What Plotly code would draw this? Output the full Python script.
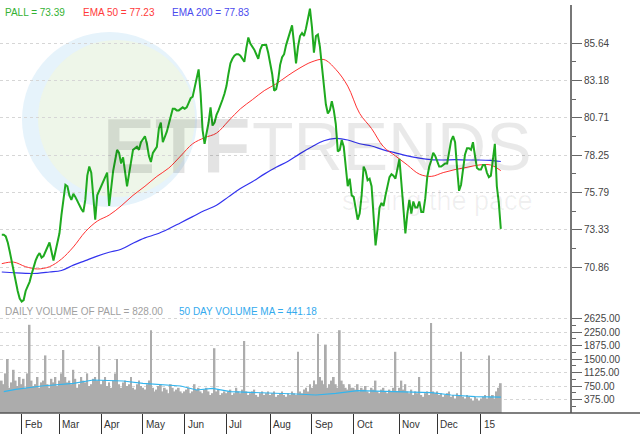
import plotly.graph_objects as go
import pandas as pd

# ---------------- data ----------------
price = [
    73.0, 73.0, 72.9, 72.5, 71.9, 71.2, 70.5, 69.9, 69.3, 68.8,
    68.6, 68.7, 69.3, 69.6, 69.9, 70.4, 70.9, 71.3, 71.6, 71.8,
    71.5, 71.6, 71.9, 72.2, 72.5, 71.9, 71.3, 71.9, 72.5, 73.1,
    74.3, 75.5, 76.3, 76.2, 75.6, 75.3, 75.7, 75.5, 75.2, 74.9,
    74.7, 74.5, 75.3, 76.9, 77.5, 77.1, 75.5, 74.0, 75.6, 75.9,
    76.2, 76.6, 76.9, 77.1, 74.9, 76.1, 77.2, 77.9, 78.6, 78.4,
    77.7, 78.1, 77.2, 76.2, 77.0, 77.8, 78.6, 78.7, 78.8, 78.6,
    79.1, 79.3, 79.5, 79.0, 78.2, 77.8, 78.4, 78.6, 78.8, 80.0,
    80.4, 79.1, 79.4, 79.8, 80.3, 80.8, 81.3, 81.3, 81.2, 81.2,
    81.3, 81.4, 81.3, 81.4, 81.7, 82.0, 82.1, 82.7, 83.4, 83.9,
    82.3, 79.9, 79.0, 79.6, 80.4, 81.4, 80.2, 80.4, 80.9, 81.2,
    81.5, 81.9, 82.3, 82.8, 83.6, 84.3, 84.6, 84.8, 84.9, 84.9,
    84.8, 84.6, 84.4, 85.3, 86.0, 85.6, 85.4, 85.2, 84.9, 84.6,
    85.2, 85.5, 85.5, 85.5, 85.0, 84.3, 83.6, 82.5, 82.6, 83.2,
    84.2, 84.7, 84.9, 85.5, 85.9, 86.3, 86.8, 85.6, 84.3, 85.4,
    86.1, 86.3, 86.1, 86.6, 87.2, 87.9, 86.7, 85.0, 86.1, 86.2,
    85.4, 84.2, 83.0, 81.6, 81.0, 81.2, 81.8, 81.2, 80.3, 78.5,
    78.6, 79.25, 78.8, 77.6, 76.2, 76.7, 75.6, 75.5, 74.6, 74.0,
    74.4, 75.6, 77.5, 77.2, 76.6, 76.7, 76.2, 74.5, 72.3, 73.4,
    74.8, 75.1, 74.9, 75.6, 76.3, 76.8, 77.0, 76.9, 76.7, 77.4,
    78.0, 76.4, 74.8, 73.1, 74.4, 75.3, 74.4, 75.2, 74.8, 74.8,
    75.2, 74.5, 74.5, 75.4, 76.8, 77.5, 77.9, 78.4, 78.2, 77.8,
    77.5, 77.5, 77.6, 77.7, 77.7, 78.5, 79.2, 79.5, 79.1, 77.4,
    75.9, 76.3, 77.5, 78.3, 78.7, 78.7, 78.6, 79.1, 78.2, 77.4,
    77.3, 77.3, 77.6, 77.6, 77.1, 76.8, 76.9, 78.1, 79.0, 76.2,
    75.1, 73.39,
]

ema_days = [0, 6, 12, 18, 24, 30, 36, 42, 48, 54, 60, 66, 72, 78, 84, 90, 96,
            102, 108, 114, 120, 126, 132, 138, 144, 150, 156, 162, 168, 174,
            180, 186, 192, 198, 204, 210, 216, 222, 228, 234, 240, 246, 251]
ema50 = [71.1, 71.2, 70.9, 70.75, 70.9, 71.4, 72.2, 73.2, 73.9, 74.3, 74.9,
         75.6, 76.2, 76.85, 77.4, 78.2, 79.0, 79.4, 79.7, 80.5, 81.3, 81.9,
         82.5, 82.95, 83.5, 84.0, 84.4, 84.55, 83.9, 82.8, 81.0, 80.0, 78.8,
         78.2, 77.6, 77.0, 76.85, 77.1, 77.3, 77.45, 77.6, 77.6, 77.23]
ema200 = [70.55, 70.5, 70.46, 70.46, 70.55, 70.65, 71.0, 71.3, 71.6, 71.85,
          72.05, 72.45, 72.8, 73.05, 73.4, 73.8, 74.2, 74.6, 74.95, 75.5,
          76.05, 76.5, 77.0, 77.45, 77.85, 78.35, 78.8, 79.2, 79.35, 79.25,
          79.0, 78.85, 78.6, 78.4, 78.2, 78.05, 77.95, 77.93, 77.95, 77.93,
          77.93, 77.9, 77.83]

volume = [
    900, 800, 1100, 1500, 700, 850, 1200, 900, 750, 1000,
    800, 950, 700, 1100, 2450, 900, 750, 800, 1000, 700, 850, 900, 1600, 800, 700, 950, 850, 1000, 750,
    900, 1100, 1750, 1000, 850, 900, 800, 1200, 950, 700, 800, 1000, 900, 850, 1100, 750, 800, 950, 1000, 900, 1850,
    800, 900, 1000, 750, 850, 700, 900, 1100, 1500, 800, 700, 850, 900, 750, 800, 1000, 700, 650, 800, 900, 750,
    700, 650, 800, 900, 2300, 700, 600, 650, 750, 800, 600, 700, 650, 550, 800, 700, 600, 650, 700, 600, 550,
    600, 650, 700, 550, 600, 800, 650, 700, 600, 550, 650, 700, 600, 500, 550, 1800, 600, 650, 500, 550, 600,
    550, 600, 650, 500, 550, 700, 600, 550, 650, 2000, 600, 500, 550, 600, 650, 500, 450, 550, 600, 500, 550, 600,
    500, 550, 600, 450, 500, 550, 600, 500, 450, 550, 500, 600, 550, 500, 1700, 600, 550, 650, 700, 600, 800,
    700, 900, 800, 2200, 1000, 900, 800, 1900, 700, 800, 900, 1000, 800, 700, 2300, 900, 800, 700, 650, 800, 700,
    700, 650, 800, 600, 700, 650, 750, 600, 550, 700, 650, 900, 600, 550, 650, 700, 600, 550, 650, 600, 700, 1700, 600,
    700, 900, 650, 800, 600, 550, 650, 500, 600, 550, 1000, 500, 450, 550, 600, 500, 2500, 600, 550,
    600, 500, 550, 450, 500, 550, 600, 450, 500, 400, 550, 500, 1700, 450, 400, 500, 450, 400, 350, 450, 400, 350,
    400, 450, 500, 400, 1600, 450, 500, 400, 600, 700, 828,
]

vol_ma_days = [1, 7, 20, 36, 46, 61, 71, 90, 98, 106, 115, 133, 148, 158, 168,
               179, 195, 205, 216, 226, 238, 251]
vol_ma = [592, 658, 750, 824, 917, 889, 824, 750, 639, 685, 592, 565, 528, 500,
          546, 620, 602, 592, 565, 500, 454, 441.18]

month_labels = ["Feb", "Mar", "Apr", "May", "Jun", "Jul", "Aug", "Sep", "Oct",
                "Nov", "Dec", "15"]
price_ticks = [70.86, 73.33, 75.79, 78.25, 80.71, 83.18, 85.64]
volume_ticks = [375, 750, 1125, 1500, 1875, 2250, 2625]

# trading calendar (x positions are trading-day numbers)
holidays = ["2014-01-20", "2014-02-17", "2014-04-18", "2014-05-26", "2014-07-04",
            "2014-09-01", "2014-11-27", "2014-12-25", "2015-01-01"]
dates = pd.bdate_range("2014-01-17", "2015-01-16", freq="C", holidays=holidays)
days = list(range(len(dates)))
month_starts = [i for i in range(1, len(dates)) if dates[i].month != dates[i - 1].month]

# ---------------- styling ----------------
FONT = "Liberation Sans, Arial, sans-serif"
W, H = 640, 434
ML, MR, MT, MB = 0, 70, 0, 21
PW, PH = W - ML - MR, H - MT - MB


def px_x(p):
    return p / PW


def px_y(p):
    return 1 - p / PH


split = px_y(308)
top = px_y(5)

fig = go.Figure()

fig.add_trace(go.Bar(x=days, y=volume, xaxis="x", yaxis="y2",
                     marker=dict(color="#acacac", line=dict(width=0)),
                     name="Volume", hoverinfo="x+y"))
fig.add_trace(go.Scatter(x=vol_ma_days, y=vol_ma, xaxis="x", yaxis="y2", mode="lines",
                         line=dict(color="#33b5ee", width=1.2), name="50 day MA"))
fig.add_trace(go.Scatter(x=ema_days, y=ema200, xaxis="x", yaxis="y", mode="lines",
                         line=dict(color="#3333ee", width=1.2, shape="spline"), name="EMA 200"))
fig.add_trace(go.Scatter(x=ema_days, y=ema50, xaxis="x", yaxis="y", mode="lines",
                         line=dict(color="#ff3333", width=1, shape="spline"), name="EMA 50"))
fig.add_trace(go.Scatter(x=days, y=price, xaxis="x", yaxis="y", mode="lines",
                         line=dict(color="#1faa1f", width=2), name="PALL"))

price_minor = [(a + b) / 2 for a, b in zip(price_ticks[:-1], price_ticks[1:])]
vol_minor = [v - 187.5 for v in volume_ticks]

axis_common = dict(side="right", anchor="x", showline=True, linecolor="#777777",
                   linewidth=2, ticks="outside", ticklen=10, tickcolor="#666666",
                   tickwidth=1, tickfont=dict(family=FONT, size=10, color="#444444"),
                   showgrid=True, gridcolor="#d6d6d6", griddash="3px,3px", gridwidth=1,
                   zeroline=False, fixedrange=True)

fig.update_layout(
    width=W, height=H,
    margin=dict(l=ML, r=MR, t=MT, b=MB),
    paper_bgcolor="white", plot_bgcolor="white",
    showlegend=False, bargap=0.12,
    font=dict(family=FONT),
    xaxis=dict(domain=[0, 1], anchor="y2", range=[-0.9, 285.8],
               tickmode="array", tickvals=month_starts, ticks="outside", ticklen=20,
               tickcolor="#333333", tickwidth=1, showticklabels=False,
               showgrid=False, zeroline=False, showline=False, fixedrange=True),
    yaxis=dict(domain=[split, top], range=[68.178, 88.144],
               tickmode="array", tickvals=price_ticks,
               ticktext=[f"{v:.2f}" for v in price_ticks],
               minor=dict(tickmode="array", tickvals=price_minor, ticks="outside",
                          ticklen=4, tickcolor="#666666", showgrid=False),
               **axis_common),
    yaxis2=dict(domain=[0, split], range=[0, 2917],
                tickmode="array", tickvals=volume_ticks,
                ticktext=[f"{v:.2f}" for v in volume_ticks],
                minor=dict(tickmode="array", tickvals=vol_minor, ticks="outside",
                           ticklen=4, tickcolor="#666666", showgrid=False),
                **axis_common),
)

shapes = [
    dict(type="circle", xref="paper", yref="paper", layer="below",
         x0=px_x(22), x1=px_x(197), y0=px_y(207), y1=px_y(32),
         fillcolor="#e6f3fb", line=dict(width=0)),
    dict(type="circle", xref="paper", yref="paper", layer="below",
         x0=px_x(38), x1=px_x(195), y0=px_y(197), y1=px_y(40),
         fillcolor="#eef6e9", line=dict(width=0)),
    dict(type="line", xref="paper", yref="paper", x0=0, x1=W / PW, y0=0, y1=0,
         line=dict(color="#555555", width=1.5)),
]


def note(text, x, y, size, color, xanchor="center", **kw):
    return dict(text=text, x=x, y=y, xref="paper", yref="paper", xanchor=xanchor,
                yanchor="middle", showarrow=False,
                font=dict(family=FONT, size=size, color=color), **kw)


ann = []
# watermark
ann.append(note("<b>ETF</b>", px_x(176), px_y(146), 78, "rgba(0,0,0,0.11)"))
ann.append(note("TRENDS", px_x(392), px_y(146), 68, "rgba(0,0,0,0.085)"))
ann.append(note("setting the pace", px_x(437), px_y(201), 27, "rgba(0,0,0,0.06)"))

# legends
leg_y = px_y(12.5)
ann.append(note(f"PALL = {price[-1]:.2f}", px_x(3), leg_y, 10, "#33b233", "left"))
ann.append(note(f"EMA 50 = {ema50[-1]:.2f}", px_x(81), leg_y, 10, "#ff3a3a", "left"))
ann.append(note(f"EMA 200 = {ema200[-1]:.2f}", px_x(170), leg_y, 10, "#4a4aee", "left"))
vleg_y = px_y(311.5)
ann.append(note(f"DAILY VOLUME OF PALL = {volume[-1]:.2f}", px_x(3), vleg_y, 10, "#a0a0a0", "left"))
ann.append(note(f"50 DAY VOLUME MA = {vol_ma[-1]:.2f}", px_x(177), vleg_y, 10, "#33aaee", "left"))

# month labels (to the right of each month tick)
for d, lab in zip(month_starts, month_labels):
    ann.append(dict(text=lab, x=d, y=0, xref="x", yref="paper", xanchor="left",
                    yanchor="middle", xshift=1, yshift=-11, showarrow=False,
                    font=dict(family=FONT, size=10, color="#333333")))

fig.update_layout(shapes=shapes, annotations=ann)
fig.write_html("out.html", config={"displayModeBar": False},
               post_script="document.body.style.margin='0px';")
